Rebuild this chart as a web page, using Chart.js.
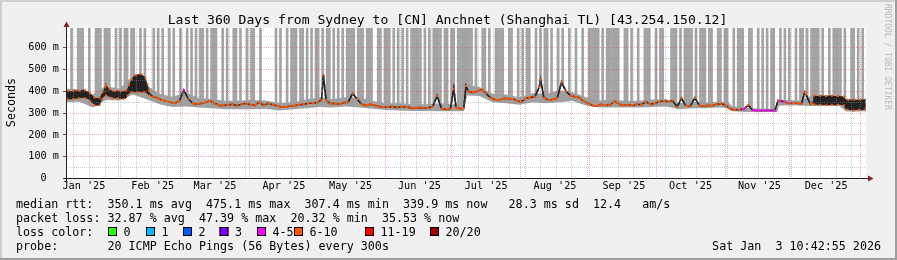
<!DOCTYPE html>
<html><head><meta charset="utf-8">
<script src="https://cdn.jsdelivr.net/npm/chart.js@4.4.1/dist/chart.umd.min.js"></script>
<style>html,body{margin:0;padding:0;background:#f0f0f0;}canvas{display:block}</style>
</head><body>
<canvas id="c" width="897" height="260"></canvas>
<script>
// ---------- data (days since start of window, ms) ----------
const monthLabels = ["Jan '25","Feb '25","Mar '25","Apr '25","May '25","Jun '25","Jul '25","Aug '25","Sep '25","Oct '25","Nov '25","Dec '25"];
const yTickValues = [0,50,100,150,200,250,300,350,400,450,500,550,600,650];

const medDays = [0.2,1,3,5,7,9,11,13,15,17,
 18,19,21,23,25,27,29,31,33,35,
 37,39,41,43,45,47,49,51,53,55,
 57,59,61,63,65,67,69,71,73,75,
 77,79,81,83,85,87,89,91,93,95,
 97,99,101,103,105,107,109,111,113,115,
 115.8,117,119,121,123,125,127,129,131,133,
 135,137,139,141,143,145,147,149,151,153,
 155,157,159,161,163,165,167,169,171,173,
 174.5,175.5,177,179,180,181,183,185,187,189,
 191,193,195,197,199,201,203,205,207,209,
 211,213,213.6,215,217,219,221,223,225,227,
 229,231,233,235,237,239,241,243,245,247,
 249,251,253,255,257,259,261,263,265,267,
 269,271,273,275,277,279,281,283,285,287,
 289,291,293,295,297,299,301,303,305,307,
 309,311,313,315,317,319,320.5,323,325,327,
 329,331,332.5,333,335,337,341,345,349,351,
 355,359.8];
const medMs = [382,385,385,383,390,392,378,350,345,388,
 428,395,385,390,385,380,430,470,475,465,
 395,375,370,360,355,350,345,355,405,365,
 345,340,345,350,355,345,335,335,338,340,
 333,340,345,338,335,350,335,345,338,332,
 328,328,333,335,338,340,345,345,348,360,
 475,360,343,345,340,348,350,390,365,340,
 335,340,335,330,328,328,330,325,330,328,
 325,322,325,322,325,330,378,320,318,320,
 412,325,320,322,424,400,395,400,408,390,
 370,362,360,368,366,365,355,352,368,372,
 375,420,455,370,360,362,368,440,400,380,
 375,370,355,345,335,333,340,335,338,355,
 340,335,338,335,340,338,352,340,345,352,
 355,352,357,328,368,332,333,370,335,333,
 335,335,340,343,335,318,315,316,318,336,
 313,312,312,312,312,312,358,352,345,345,
 345,343,397,385,340,358,358,358,358,340,
 338,338];

const smokeDays = [0,6,12,18,24,30,36,42,48,54,
 60,66,72,78,84,90,96,102,108,114,
 120,126,132,138,144,150,156,162,168,174,
 179,180.5,
 186,192,198,204,210,216,222,228,234,240,
 246,252,258,264,270,276,282,288,294,
 298,300,306,312,318,320,321,324,330,336,342,348,351,354,360];
const smokeLo = [350,352,325,360,358,385,365,340,328,330,
 325,322,318,318,318,320,312,318,322,328,
 326,330,326,320,314,312,310,310,308,308,
 308,380,
 378,350,345,338,350,345,350,355,335,325,
 325,325,325,328,330,318,322,322,325,
 322,308,305,305,305,305,335,335,335,332,332,332,308,306,308];
const smokeHi = [412,410,385,425,410,470,430,388,375,395,
 368,365,355,358,360,358,345,350,362,372,
 365,372,372,355,345,345,340,340,345,340,
 340,428,
 420,388,385,372,392,388,405,395,372,358,
 362,355,357,362,365,345,352,348,352,
 348,330,326,320,320,322,362,360,358,382,382,382,366,366,366];

const denseDaysA = [0.2,2,4,6,8,10,11.5,13,15,16.5,18,19.5,21,23,25,27,28,29,30.5,32,34,35.5,36.5,37.5];
const denseLoA   = [365,362,366,368,370,365,348,335,333,372,380,375,368,368,364,366,385,395,396,395,395,395,388,380];
const denseHiA   = [402,400,404,402,408,398,385,370,368,395,425,410,400,402,400,402,420,445,470,476,478,465,440,400];
const denseDaysB = [336.2,338,340,342,344,346,348,350,350.8,352,354,356,358,359.8];
const denseLoB   = [340,338,338,336,338,336,338,336,318,315,312,315,314,316];
const denseHiB   = [380,378,380,378,380,378,378,376,362,360,362,360,362,362];

const spikeDays = [2,5,6,7,10,13,14,15,17,18,19,22,24,26,27,29,30,33,35,39,41,43,46,48,51,54,56,58,60,61,63,65,66,67,70,72,75,76,78,81,83,84,87,
 94,96,99,101,102,103,105,106,108,110,112,113,115,117,118,120,122,124,126,127,128,129,131,132,133,135,136,137,140,141,143,144,145,147,149,151,153,155,156,157,158,159,161,163,165,166,167,168,170,171,173,174,176,177,178,
 179,180,181,182,184,187,188,190,193,194,195,196,199,200,203,205,207,208,211,213,215,216,218,221,223,226,229,232,235,236,237,238,239,241,243,244,245,246,247,248,251,252,254,257,260,261,262,265,267,268,
 272,273,274,276,278,279,280,281,283,285,286,287,289,290,293,294,296,297,300,302,303,304,307,308,311,313,315,317,318,321,323,325,328,330,331,333,335,336,337,338,340,343,345,346,347,348,350,353,354,356,358];

const magentaRanges = [[52.8,53.8],[305,306.5],[309,319.8],[321,323.5],[325.5,326.5]];

const lossColors = ['#26ff00','#00b8ff','#0059ff','#7e00ff','#ff00ff','#ff5500','#ff0000','#a10000'];
const lossLabels = ['0','1','2','3','4-5','6-10','11-19','20/20'];

// ---------- helpers ----------
const T0 = Date.UTC(2025,0,8,10,42,55), DAY = 864e5, SPAN = 360, Y_MAX = 690;
const monthStarts = []; for (let m=0;m<=12;m++) monthStarts.push((Date.UTC(2025,m,1)-T0)/DAY);
const majorX = monthStarts.filter(v=>v>0 && v<SPAN);
const labelX = monthStarts.slice(0,12).map(v=>v+15.5);
const gridX = []; for (let v=(Date.UTC(2025,0,12)-T0)/DAY; v<SPAN; v+=7) gridX.push(v);
majorX.forEach(v=>{ if(!gridX.some(g=>Math.abs(g-v)<1e-6)) gridX.push(v); });
gridX.sort((a,b)=>a-b);
const isMajorX = v => majorX.some(m=>Math.abs(m-v)<1e-6);

const ORANGE = lossColors[5], MAGENTA = lossColors[4], DARK = '#262626';
const inRanges = (x, rs) => rs.some(r => x>=r[0] && x<=r[1]);
function interp(xs, ys, x){
  if (x<=xs[0]) return ys[0];
  for (let i=1;i<xs.length;i++) if (x<=xs[i]) { const t=(x-xs[i-1])/(xs[i]-xs[i-1]); return ys[i-1]+t*(ys[i]-ys[i-1]); }
  return ys[ys.length-1];
}
const pts = (xs, ys) => xs.map((x,i)=>({x, y: ys[i]}));

const MONO = '"DejaVu Sans Mono", monospace';
const GRID_MINOR = 'rgba(143,143,143,0.46)', GRID_MAJOR = 'rgba(222,80,80,0.46)';

const deco = {
  id:'deco',
  beforeDraw(chart){
    const c=chart.ctx, a=chart.chartArea;
    c.save();
    c.fillStyle='#f0f0f0'; c.fillRect(0,0,897,260);
    c.fillStyle='#cfcfcf'; c.fillRect(0,0,897,2); c.fillRect(0,0,2,260);
    c.fillStyle='#9e9e9e'; c.fillRect(0,258,897,2); c.fillRect(895,0,2,260);
    c.fillStyle='#ffffff'; c.fillRect(a.left,a.top,a.right-a.left,a.bottom-a.top);
    c.restore();
  },
  afterDraw(chart){
    const c=chart.ctx, a=chart.chartArea;
    const y0 = Math.floor(a.bottom)+0.5, x0 = Math.floor(a.left)+0.5;
    c.save();
    c.strokeStyle='#1f1f1f'; c.lineWidth=1;
    c.beginPath(); c.moveTo(x0-3,y0); c.lineTo(a.right+3,y0); c.stroke();
    c.beginPath(); c.moveTo(x0,y0+3); c.lineTo(x0,a.top-2); c.stroke();
    c.fillStyle='#7f1f1f';
    c.beginPath(); c.moveTo(a.right+7.5,y0); c.lineTo(a.right+2,y0-3); c.lineTo(a.right+2,y0+3); c.closePath(); c.fill();
    c.beginPath(); c.moveTo(x0,a.top-6.5); c.lineTo(x0-3,a.top-1); c.lineTo(x0+3,a.top-1); c.closePath(); c.fill();
    c.fillStyle='#000';
    c.font='13.1px '+MONO; c.textAlign='center'; c.textBaseline='alphabetic';
    c.fillText('Last 360 Days from Sydney to [CN] Anchnet (Shanghai TL) [43.254.150.12]', 447.5, 24);
    c.save(); c.font='11.7px '+MONO; c.translate(15,102.5); c.rotate(-Math.PI/2);
    c.fillText('Seconds',0,0); c.restore();
    c.save(); c.font='8px '+MONO; c.fillStyle='#b8b8b8'; c.textAlign='left';
    c.translate(884.5,4); c.rotate(Math.PI/2); c.fillText('RRDTOOL / TOBI OETIKER',0,0); c.restore();
    c.font='11.7px '+MONO; c.textAlign='left'; c.fillStyle='#000';
    c.fillText('median rtt:  350.1 ms avg  475.1 ms max  307.4 ms min  339.9 ms now   28.3 ms sd  12.4   am/s', 16, 208);
    c.fillText('packet loss: 32.87 % avg  47.39 % max  20.32 % min  35.53 % now', 16, 222);
    c.fillText('loss color:', 16, 236);
    const boxX = [108,146,183,219.5,257,294,365,430];
    lossColors.forEach((col,i)=>{
      c.fillStyle=col; c.fillRect(boxX[i],227,9,9);
      c.strokeStyle='#000'; c.lineWidth=1; c.strokeRect(boxX[i]+0.5,227.5,8,8);
      c.fillStyle='#000'; c.fillText(lossLabels[i], boxX[i]+15.5, 236);
    });
    c.fillText('probe:       20 ICMP Echo Pings (56 Bytes) every 300s', 16, 250);
    c.textAlign='right'; c.fillText('Sat Jan  3 10:42:55 2026', 881, 250);
    c.restore();
  }
};

const lossColorAt = x => inRanges(x, magentaRanges) ? MAGENTA : ORANGE;

Chart.defaults.color = '#000';
new Chart(document.getElementById('c'), {
  type:'line',
  data:{ datasets:[
    { type:'bar', label:'loss', xAxisID:'xm', order:6,
      data: spikeDays.map(d=>({x:d+0.5, y:[interp(medDays,medMs,d+0.5), Y_MAX]})),
      backgroundColor:'#a4a4a4', borderWidth:0, barThickness:2 },
    { label:'smokeLo', xAxisID:'xm', order:5, data: pts(smokeDays, smokeLo),
      borderWidth:0, pointRadius:0, fill:false },
    { label:'smokeHi', xAxisID:'xm', order:5, data: pts(smokeDays, smokeHi),
      borderWidth:0, pointRadius:0, fill:1, backgroundColor:'#a0a0a0' },
    { label:'medianDark', xAxisID:'xm', order:4, data: pts(medDays, medMs),
      borderColor:DARK, borderWidth:1.6, pointRadius:0, fill:false },
    { label:'median', xAxisID:'xm', order:3, data: pts(medDays, medMs),
      borderWidth:1.6, borderDash:[3,2], pointRadius:1.4, pointStyle:'rect', pointBorderWidth:0,
      pointBackgroundColor: ctx => lossColorAt(medDays[ctx.dataIndex]),
      segment:{ borderColor: s => Math.abs(s.p1.parsed.y - s.p0.parsed.y) > 18 ? DARK
        : lossColorAt((s.p0.parsed.x+s.p1.parsed.x)/2) },
      fill:false },
    { label:'denseLoA', xAxisID:'xm', order:2, data: pts(denseDaysA, denseLoA),
      borderColor:ORANGE, borderWidth:2, borderDash:[2,4], pointRadius:0, fill:false },
    { label:'denseHiA', xAxisID:'xm', order:2, data: pts(denseDaysA, denseHiA),
      borderColor:ORANGE, borderWidth:2, borderDash:[2,4], pointRadius:0, fill:5, backgroundColor:'#222222' },
    { label:'denseLoB', xAxisID:'xm', order:2, data: pts(denseDaysB, denseLoB),
      borderColor:ORANGE, borderWidth:2, borderDash:[2,4], pointRadius:0, fill:false },
    { label:'denseHiB', xAxisID:'xm', order:2, data: pts(denseDaysB, denseHiB),
      borderColor:ORANGE, borderWidth:2, borderDash:[2,4], pointRadius:0, fill:7, backgroundColor:'#222222' }
  ]},
  options:{
    responsive:false, animation:false, devicePixelRatio:1, events:[],
    layout:{ padding:{ left:0, top:28, right:31, bottom:0 } },
    plugins:{ legend:{display:false}, tooltip:{enabled:false} },
    elements:{ line:{ tension:0 } },
    scales:{
      x:{ type:'linear', position:'bottom', min:0, max:SPAN, offset:false,
          afterBuildTicks: s => { s.ticks = gridX.map(v=>({value:v})); },
          afterFit: s => { s.height = 0; },
          ticks:{ display:false },
          border:{ display:false, dash:[1,1] },
          grid:{ z:1, drawTicks:false, lineWidth:1, borderDash:[1,1], offset:false,
                 color: ctx => (ctx.tick && isMajorX(ctx.tick.value)) ? GRID_MAJOR : GRID_MINOR } },
      xm:{ type:'linear', position:'bottom', min:0, max:SPAN, offset:false,
          afterBuildTicks: s => { s.ticks = labelX.map(v=>({value:v})); },
          afterFit: s => { s.height = 81.5; },
          ticks:{ autoSkip:false, maxRotation:0, padding:2, font:{family:'DejaVu Sans Mono', size:10.2},
                  callback:(v,i)=>monthLabels[i] },
          border:{ display:false },
          grid:{ display:false, drawTicks:false, offset:false } },
      y:{ type:'linear', min:0, max:Y_MAX,
          afterBuildTicks: s => { s.ticks = yTickValues.map(v=>({value:v})); },
          afterFit: s => { s.width = 66; },
          ticks:{ autoSkip:false, padding:4, font:{family:'DejaVu Sans Mono', size:10.2},
                  callback: v => (v%100) ? '' : (v===0 ? '0  ' : v+' m') },
          border:{ display:false, dash:[1,1] },
          grid:{ z:1, lineWidth:1, borderDash:[1,1], drawTicks:true, tickLength:3,
                 tickColor: ctx => (ctx.tick && ctx.tick.value%100===0) ? '#555' : 'rgba(0,0,0,0)',
                 color: ctx => (ctx.tick && ctx.tick.value%100===0) ? GRID_MAJOR : GRID_MINOR } }
    }
  },
  plugins:[deco]
});
</script></body></html>
